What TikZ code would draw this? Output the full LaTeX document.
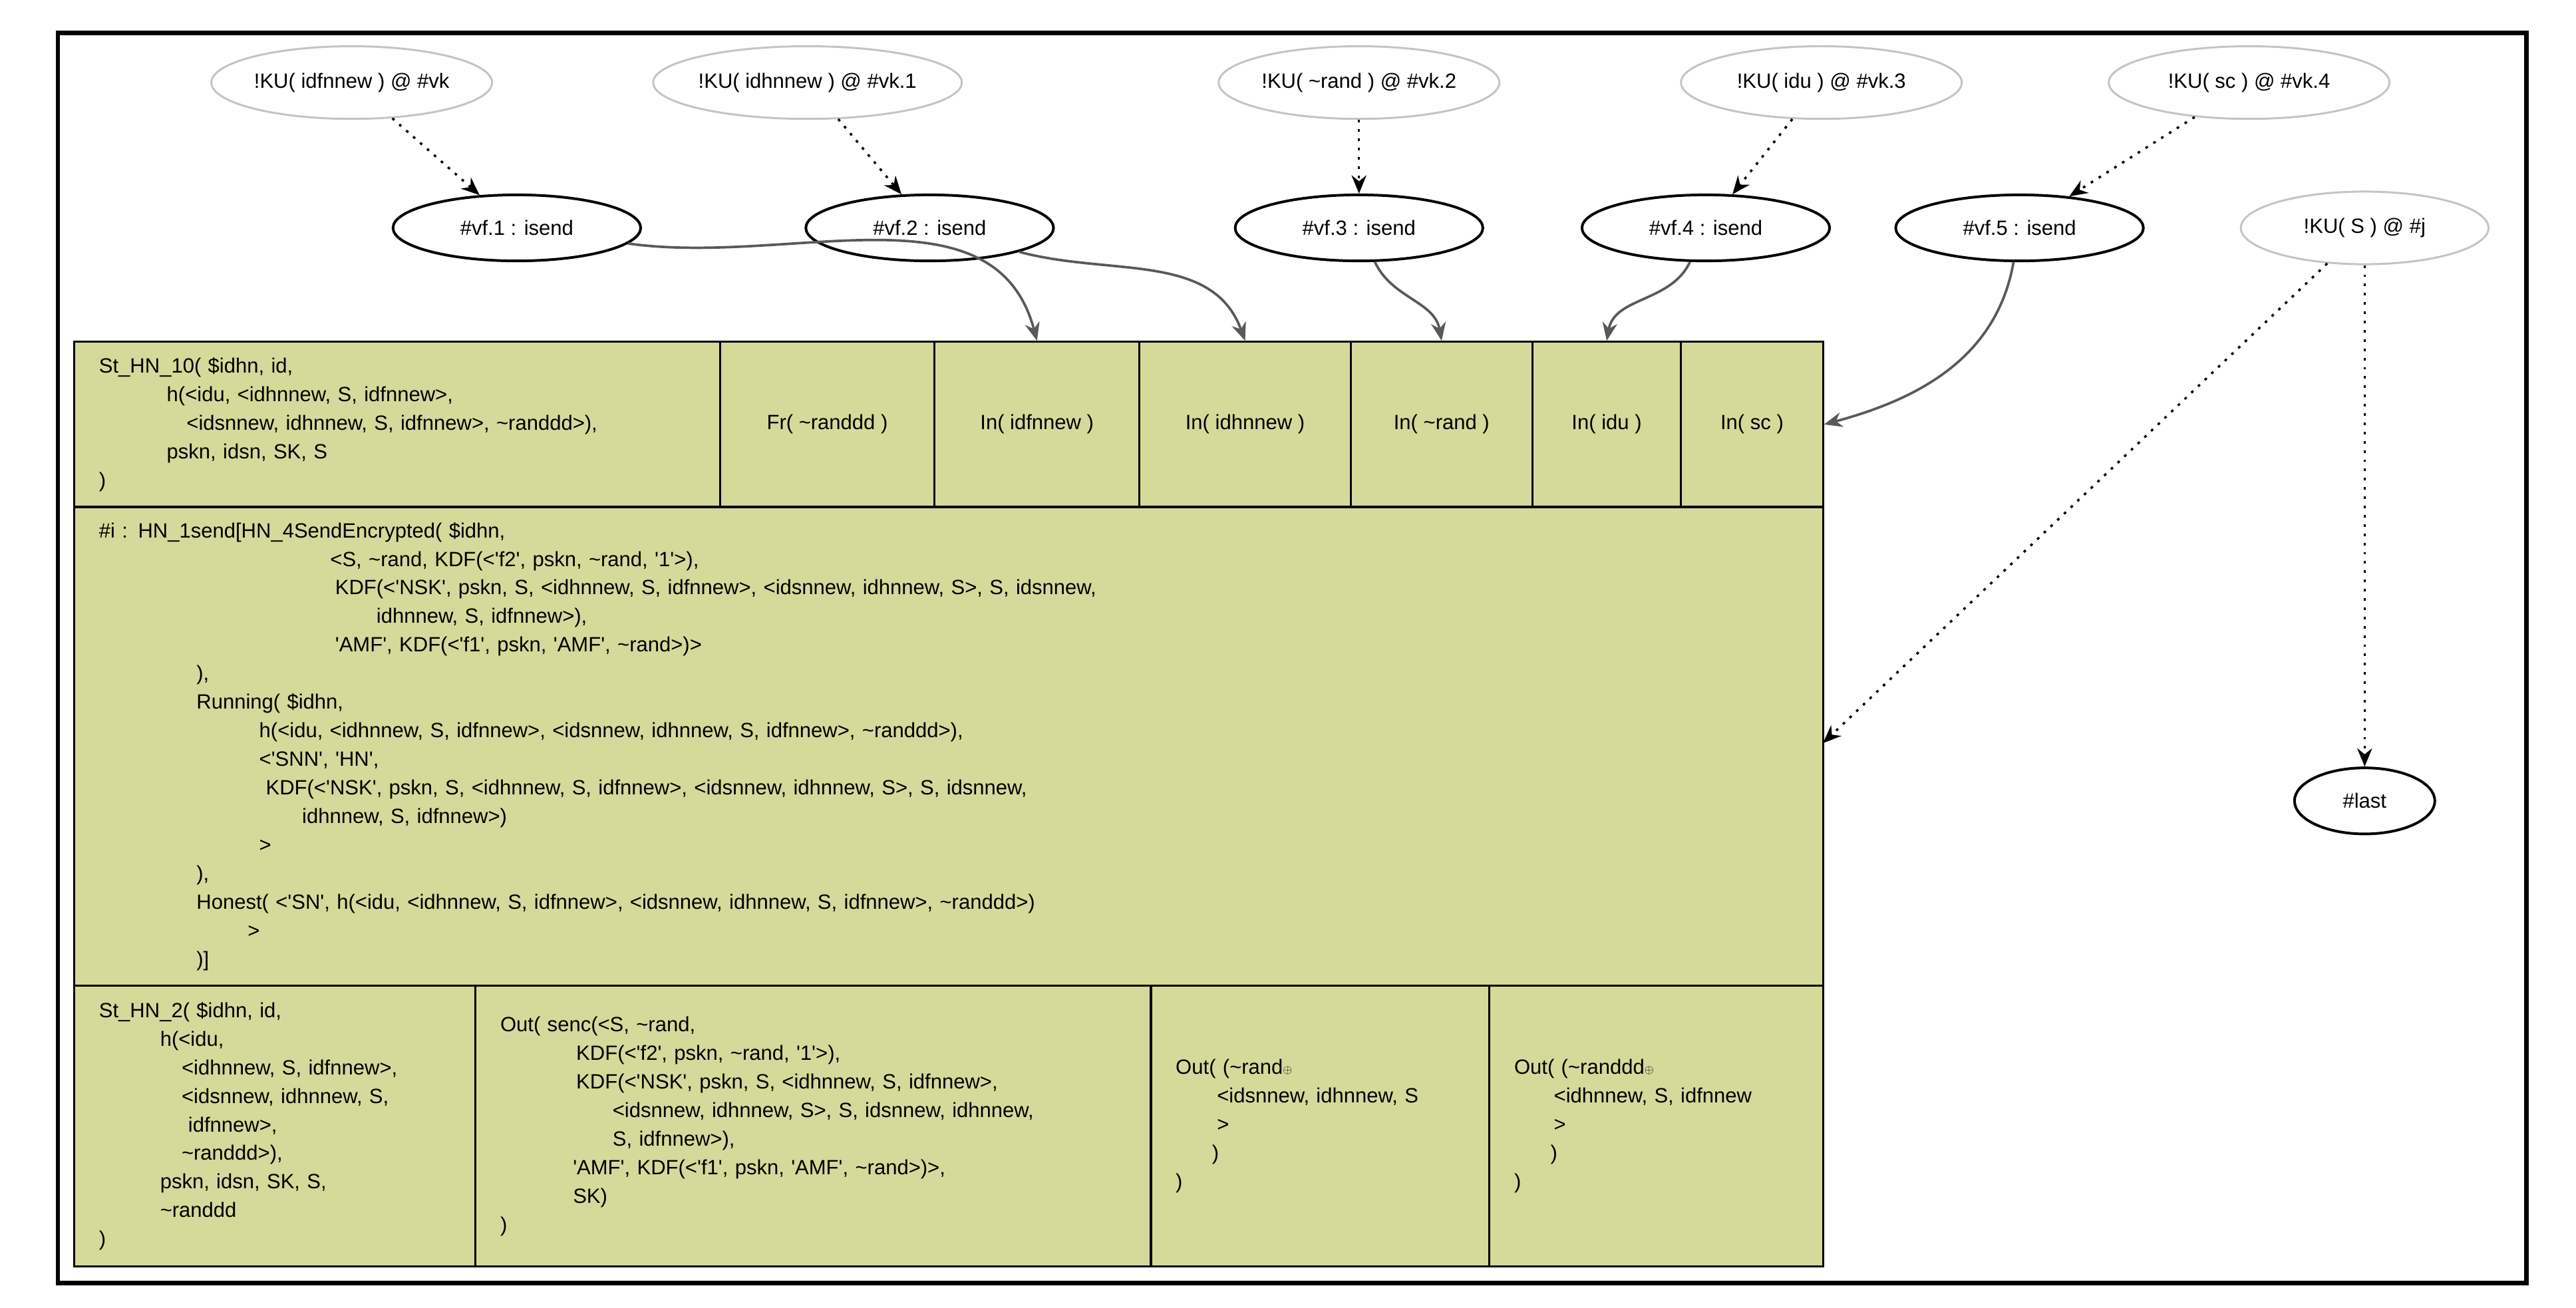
\documentclass[tikz,border=0pt]{standalone}
\usepackage{fontspec}
\setmainfont{Liberation Sans}
\usetikzlibrary{shapes.geometric,arrows.meta}
\newcommand{\tl}{\textasciitilde}
\newcommand{\sq}{\textquotesingle}
\newcommand{\ind}[1]{\hspace*{#1pt}}
\newcommand{\xor}{\raisebox{0.5pt}{\scalebox{0.6}{$\oplus$}}}
\definecolor{recfill}{HTML}{D5D99A}
\definecolor{kugray}{HTML}{C4C4C4}
\begin{document}
\begin{tikzpicture}[
	                   x = 1pt,
	                   y = -1pt,
	      every node/.style = {font=\fontsize{12.5}{17.3}\selectfont},
	          knows/.style = {ellipse, draw=kugray, line width=1.2pt, minimum width=170pt, minimum height=44pt, inner sep=0pt},
	           send/.style = {ellipse, draw, line width=1.6pt, minimum width=150pt, minimum height=40pt, inner sep=0pt},
	           cell/.style = {draw, line width=1.3pt, fill=recfill, inner xsep=15pt, inner ysep=0pt, align=left},
	           port/.style = {draw, line width=1.3pt, fill=recfill, inner sep=0pt, align=center},
	           edge/.style = {draw=black!65, line width=1.5pt, -{Stealth[length=11pt,width=9pt]}},
	         dotted/.style = {draw, line width=1.4pt, dash pattern=on 1.6pt off 4pt, -{Stealth[length=11pt,width=9pt]}}
	                     ]
	\useasboundingbox (0,0) rectangle (1560,792);
	\draw[line width=2.6pt] (35,20) rectangle (1530,777);
	% knowledge facts
	\node[knows] (ku0) at (213,50) {!KU( idfnnew ) @ \#vk};
	\node[knows] (ku1) at (489,50) {!KU( idhnnew ) @ \#vk.1};
	\node[knows] (ku2) at (823,50) {!KU( \tl rand ) @ \#vk.2};
	\node[knows] (ku3) at (1103,50) {!KU( idu ) @ \#vk.3};
	\node[knows] (ku4) at (1362,50) {!KU( sc ) @ \#vk.4};
	\node[knows, minimum width=150pt] (kuj) at (1432,138) {!KU( S ) @ \#j};
	% sends
	\node[send] (vf1) at (313,138) {\#vf.1 : isend};
	\node[send] (vf2) at (563,138) {\#vf.2 : isend};
	\node[send] (vf3) at (823,138) {\#vf.3 : isend};
	\node[send] (vf4) at (1033,138) {\#vf.4 : isend};
	\node[send] (vf5) at (1223,138) {\#vf.5 : isend};
	\node[send, minimum width=85pt] (last) at (1432,485) {\#last};
	% rule record, premises
	\node[cell, text width=361pt, minimum height=100pt] (st10) at (240.5,257) {St\_HN\_10( \$idhn, id,\\
		\ind{41}h(<idu, <idhnnew, S, idfnnew>,\\
		\ind{53}<idsnnew, idhnnew, S, idfnnew>, \tl randdd>),\\
		\ind{41}pskn, idsn, SK, S\\
		)};
	\node[port, minimum width=130pt, minimum height=100pt] (fr) at (501,257) {Fr( \tl randdd )};
	\node[port, minimum width=124pt, minimum height=100pt] (in1) at (628,257) {In( idfnnew )};
	\node[port, minimum width=128pt, minimum height=100pt] (in2) at (754,257) {In( idhnnew )};
	\node[port, minimum width=110pt, minimum height=100pt] (in3) at (873,257) {In( \tl rand )};
	\node[port, minimum width=90pt, minimum height=100pt] (in4) at (973,257) {In( idu )};
	\node[port, minimum width=86pt, minimum height=100pt] (in5) at (1061,257) {In( sc )};
	% rule record, action
	\node[cell, text width=1029pt, minimum height=290pt] (act) at (574.5,452) {\#i : HN\_1send[HN\_4SendEncrypted( \$idhn,\\
		\ind{140}<S, \tl rand, KDF(<\sq f2\sq, pskn, \tl rand, \sq 1\sq>),\\
		\ind{143}KDF(<\sq NSK\sq, pskn, S, <idhnnew, S, idfnnew>, <idsnnew, idhnnew, S>, S, idsnnew,\\
		\ind{168}idhnnew, S, idfnnew>),\\
		\ind{143}\sq AMF\sq, KDF(<\sq f1\sq, pskn, \sq AMF\sq, \tl rand>)>\\
		\ind{59}),\\
		\ind{59}Running( \$idhn,\\
		\ind{97}h(<idu, <idhnnew, S, idfnnew>, <idsnnew, idhnnew, S, idfnnew>, \tl randdd>),\\
		\ind{97}<\sq SNN\sq, \sq HN\sq,\\
		\ind{101}KDF(<\sq NSK\sq, pskn, S, <idhnnew, S, idfnnew>, <idsnnew, idhnnew, S>, S, idsnnew,\\
		\ind{123}idhnnew, S, idfnnew>)\\
		\ind{97}>\\
		\ind{59}),\\
		\ind{59}Honest( <\sq SN\sq, h(<idu, <idhnnew, S, idfnnew>, <idsnnew, idhnnew, S, idfnnew>, \tl randdd>)\\
		\ind{90}>\\
		\ind{59})]};
	% rule record, conclusions
	\node[cell, text width=213pt, minimum height=170pt] (st2) at (166.5,682) {St\_HN\_2( \$idhn, id,\\
		\ind{37}h(<idu,\\
		\ind{50}<idhnnew, S, idfnnew>,\\
		\ind{50}<idsnnew, idhnnew, S,\\
		\ind{54}idfnnew>,\\
		\ind{50}\tl randdd>),\\
		\ind{37}pskn, idsn, SK, S,\\
		\ind{37}\tl randdd\\
		)};
	\node[cell, text width=379pt, minimum height=170pt] (out1) at (492.5,682) {Out( senc(<S, \tl rand,\\
		\ind{46}KDF(<\sq f2\sq, pskn, \tl rand, \sq 1\sq>),\\
		\ind{46}KDF(<\sq NSK\sq, pskn, S, <idhnnew, S, idfnnew>,\\
		\ind{68}<idsnnew, idhnnew, S>, S, idsnnew, idhnnew,\\
		\ind{68}S, idfnnew>),\\
		\ind{44}\sq AMF\sq, KDF(<\sq f1\sq, pskn, \sq AMF\sq, \tl rand>)>,\\
		\ind{44}SK)\\
		)};
	\node[cell, text width=175pt, minimum height=170pt] (out2) at (799.5,682) {Out( (\tl rand\xor\\
		\ind{25}<idsnnew, idhnnew, S\\
		\ind{25}>\\
		\ind{22})\\
		)};
	\node[cell, text width=172pt, minimum height=170pt] (out3) at (1003,682) {Out( (\tl randdd\xor\\
		\ind{24}<idhnnew, S, idfnnew\\
		\ind{24}>\\
		\ind{22})\\
		)};
	\coordinate (actin) at (1104,450);
	% edges
	\draw[dotted] (ku0) -- (vf1);
	\draw[dotted] (ku1) -- (vf2);
	\draw[dotted] (ku2) -- (vf3);
	\draw[dotted] (ku3) -- (vf4);
	\draw[dotted] (ku4) -- (vf5);
	\draw[dotted] (kuj) -- (actin);
	\draw[dotted] (kuj) -- (last);
	\draw[edge] (vf1) to[out=-8, in=105] (in1.north);
	\draw[edge] (vf2) to[out=-15, in=110] (in2.north);
	\draw[edge] (vf3) to[out=-65, in=100] (in3.north);
	\draw[edge] (vf4) to[out=-115, in=80] (in4.north);
	\draw[edge] (vf5) to[out=-100, in=15] (in5.east);
\end{tikzpicture}
\end{document}
